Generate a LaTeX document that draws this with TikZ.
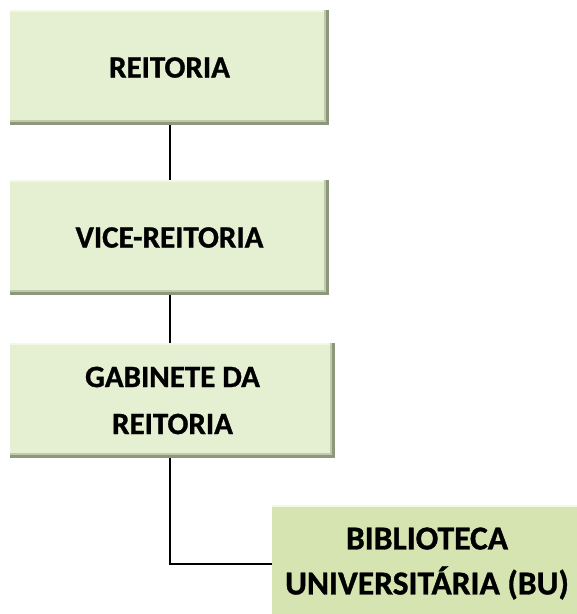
\documentclass[tikz,border=0pt]{standalone}
\usepackage{fontspec}
\setmainfont{Carlito}[BoldFeatures={FakeBold=1}]
\begin{document}
\begin{tikzpicture}[x=1pt,y=1pt,
  orgbox/.style={draw=none, align=center, inner sep=0pt,
    font=\fontsize{31}{47}\selectfont\bfseries,
    path picture={
      \fill[edgedark] ([yshift=3pt]path picture bounding box.south west) rectangle (path picture bounding box.south east);
      \fill[edgedark] ([xshift=-3pt]path picture bounding box.north east) rectangle (path picture bounding box.south east);
      \fill[edgemid] ([yshift=3pt]path picture bounding box.south west) rectangle ([yshift=5pt,xshift=-3pt]path picture bounding box.south east);
      \fill[edgemid] ([xshift=-5pt,yshift=3pt]path picture bounding box.south east) rectangle ([xshift=-3pt]path picture bounding box.north east);
      \fill[edgelight] ([yshift=-2pt]path picture bounding box.north west) rectangle ([xshift=-5pt]path picture bounding box.north east);
    }},
  bigtext/.style={font=\fontsize{33.5}{45}\selectfont\bfseries},
  conn/.style={draw=black, line width=2pt}
]
\definecolor{lightgreen}{HTML}{E5EFD2}
\definecolor{midgreen}{HTML}{D6E4B2}
\definecolor{edgedark}{HTML}{8C977E}
\definecolor{edgemid}{HTML}{BFCBA8}
\definecolor{edgelight}{HTML}{F3F8E6}
\clip (0,0) rectangle (577,-614);
\fill[white] (0,0) rectangle (577,-614);
\node[orgbox, fill=lightgreen, minimum width=319pt, minimum height=115pt] (r) at (169.5,-67.5) {REITORIA};
\node[orgbox, fill=lightgreen, minimum width=319pt, minimum height=115pt] (v) at (169.5,-237.5) {VICE-REITORIA};
\node[orgbox, fill=lightgreen, minimum width=325pt, minimum height=115pt] (g) at (172.5,-400.5) {GABINETE DA\\REITORIA};
\node[orgbox, bigtext, fill=midgreen, minimum width=310pt, minimum height=117pt] (b) at (427,-563.5) {BIBLIOTECA\\UNIVERSITÁRIA (BU)};
\coordinate (gs) at (170,-458);
\draw[conn] (r.south) -- (v.north);
\draw[conn] (v.south) -- (v.south |- g.north);
\draw[conn] (gs) |- (b.west);
\end{tikzpicture}
\end{document}
